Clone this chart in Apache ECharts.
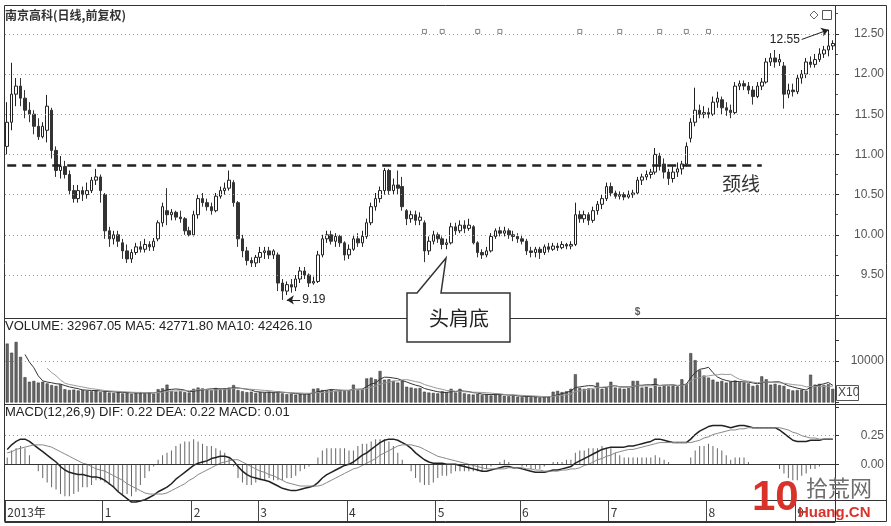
<!DOCTYPE html>
<html><head><meta charset="utf-8">
<script src="https://cdn.jsdelivr.net/npm/echarts@6.0.0/dist/echarts.min.js"></script>
<style>html,body{margin:0;padding:0;background:#fff}#c{width:891px;height:526px}</style>
</head><body><div id="c"></div>
<script>
// ---- data ----
const monthLabels = ['2013年','1','2','3','4','5','6','7','8','9'];
const monthStarts = [0,22,42,57,77,97,116,136,158,178];
const priceTicks = [9.5,10,10.5,11,11.5,12,12.5];
const necklineValue = 10.87;
const necklineEndIdx = 170;
const lowIdx = 62, lowValue = 9.19;
const highIdx = 185, highValue = 12.55;
const mineIdx = [94,98,106,111,129,138,147,153,158];
const dividendIdx = 142;

const opens = [11.10,11.40,11.75,11.85,11.70,11.55,11.50,11.35,11.22,11.30,
11.55,11.05,10.80,10.85,10.75,10.55,10.45,10.55,10.50,10.55,
10.68,10.72,10.50,10.05,9.95,10.00,9.90,9.80,9.70,9.78,
9.85,9.82,9.88,9.85,9.95,10.15,10.30,10.25,10.28,10.22,
10.20,10.05,10.00,10.25,10.45,10.40,10.35,10.30,10.48,10.55,
10.58,10.65,10.40,9.95,9.80,9.68,9.65,9.72,9.78,9.80,
9.75,9.75,9.40,9.30,9.38,9.35,9.45,9.55,9.50,9.40,
9.42,9.75,9.95,10.00,9.92,9.98,9.90,9.75,9.82,9.95,
9.90,9.98,10.15,10.35,10.45,10.55,10.80,10.55,10.62,10.60,
10.30,10.20,10.25,10.18,10.15,9.80,9.92,10.00,9.95,9.88,
9.90,10.10,10.05,10.12,10.08,10.10,9.90,9.78,9.75,9.80,
9.98,10.05,10.02,10.05,10.00,9.98,9.95,9.92,9.80,9.78,
9.82,9.78,9.85,9.82,9.86,9.84,9.88,9.86,9.88,10.25,
10.20,10.25,10.18,10.30,10.38,10.45,10.60,10.52,10.48,10.50,
10.47,10.50,10.52,10.68,10.72,10.75,10.78,10.98,10.88,10.78,
10.70,10.78,10.82,10.88,11.20,11.40,11.55,11.50,11.52,11.50,
11.65,11.68,11.58,11.55,11.52,11.85,11.88,11.85,11.80,11.72,
11.85,11.90,12.15,12.20,12.15,12.10,11.75,11.80,11.78,11.95,
12.00,12.15,12.12,12.18,12.25,12.30,12.35];
const closes = [11.40,11.75,11.85,11.70,11.55,11.50,11.35,11.22,11.35,11.60,
11.05,10.80,10.85,10.75,10.55,10.45,10.55,10.50,10.55,10.68,
10.72,10.55,10.05,9.95,10.00,9.92,9.80,9.70,9.78,9.85,
9.82,9.88,9.85,9.92,10.15,10.35,10.25,10.28,10.22,10.20,
10.05,10.00,10.25,10.45,10.40,10.35,10.30,10.48,10.55,10.58,
10.68,10.40,9.95,9.80,9.68,9.65,9.72,9.78,9.80,9.75,
9.80,9.40,9.30,9.38,9.35,9.45,9.55,9.50,9.40,9.42,
9.75,9.95,10.00,9.92,9.98,9.90,9.75,9.82,9.95,9.90,
9.98,10.15,10.35,10.45,10.55,10.80,10.55,10.62,10.58,10.35,
10.20,10.25,10.18,10.22,9.80,9.92,10.00,9.95,9.88,9.90,
10.10,10.05,10.12,10.08,10.12,9.90,9.78,9.75,9.80,9.98,
10.05,10.02,10.05,10.00,9.98,9.95,9.92,9.80,9.78,9.82,
9.78,9.85,9.82,9.86,9.84,9.88,9.86,9.88,10.25,10.20,
10.25,10.18,10.30,10.38,10.45,10.60,10.52,10.48,10.50,10.47,
10.50,10.52,10.68,10.72,10.75,10.78,11.00,10.88,10.78,10.70,
10.78,10.82,10.88,11.10,11.40,11.55,11.50,11.52,11.50,11.65,
11.70,11.58,11.55,11.52,11.85,11.88,11.85,11.80,11.72,11.85,
11.90,12.15,12.20,12.15,12.18,11.75,11.80,11.78,11.95,12.00,
12.15,12.12,12.18,12.25,12.30,12.35,12.38];
const lows = [11.00,11.30,11.60,11.60,11.45,11.40,11.25,11.18,11.20,11.15,
10.95,10.72,10.70,10.70,10.50,10.40,10.40,10.42,10.45,10.52,
10.62,10.40,9.95,9.85,9.88,9.85,9.70,9.65,9.65,9.75,
9.78,9.78,9.80,9.80,9.92,10.10,10.12,10.18,10.18,10.15,
10.00,9.98,9.98,10.20,10.35,10.30,10.25,10.28,10.45,10.50,
10.55,10.35,9.85,9.72,9.62,9.60,9.60,9.65,9.70,9.70,
9.70,9.30,9.19,9.25,9.28,9.30,9.40,9.45,9.35,9.38,
9.40,9.72,9.90,9.88,9.85,9.85,9.68,9.70,9.80,9.85,
9.85,9.95,10.12,10.30,10.40,10.50,10.50,10.50,10.50,10.30,
10.12,10.15,10.12,10.12,9.66,9.75,9.88,9.90,9.82,9.82,
9.88,10.00,10.02,10.02,10.05,9.88,9.72,9.70,9.72,9.78,
9.95,9.98,9.98,9.95,9.92,9.90,9.88,9.75,9.72,9.72,
9.70,9.75,9.78,9.80,9.80,9.82,9.82,9.82,9.86,10.15,
10.15,10.12,10.15,10.25,10.32,10.42,10.48,10.45,10.44,10.43,
10.45,10.46,10.50,10.62,10.68,10.70,10.75,10.80,10.70,10.62,
10.65,10.72,10.75,10.85,11.15,11.35,11.45,11.45,11.45,11.48,
11.58,11.50,11.48,11.45,11.50,11.80,11.80,11.75,11.62,11.70,
11.80,11.88,12.10,12.08,12.10,11.57,11.70,11.72,11.75,11.88,
11.95,12.08,12.08,12.15,12.20,12.22,12.30];
const highs = [11.65,12.14,11.95,11.95,11.80,11.65,11.55,11.45,11.40,11.74,
11.58,11.10,10.98,10.92,10.80,10.62,10.62,10.60,10.65,10.72,
10.82,10.75,10.52,10.10,10.05,10.05,9.95,9.88,9.82,9.90,
9.92,9.95,9.92,9.96,10.18,10.40,10.58,10.32,10.30,10.30,
10.22,10.10,10.30,10.50,10.52,10.45,10.40,10.52,10.60,10.65,
10.80,10.68,10.42,10.00,9.85,9.72,9.75,9.85,9.85,9.85,
9.82,9.78,9.45,9.42,9.45,9.50,9.60,9.60,9.52,9.48,
9.80,10.00,10.05,10.05,10.02,10.00,9.92,9.88,10.00,10.02,
10.05,10.20,10.40,10.52,10.60,10.83,10.82,10.70,10.80,10.72,
10.32,10.30,10.30,10.28,10.18,9.98,10.05,10.03,9.98,9.95,
10.15,10.15,10.18,10.18,10.20,10.12,9.92,9.82,9.85,10.02,
10.08,10.10,10.10,10.08,10.05,10.02,10.00,9.95,9.85,9.85,
9.85,9.88,9.90,9.90,9.90,9.92,9.90,9.92,10.40,10.30,
10.30,10.28,10.35,10.42,10.50,10.65,10.65,10.55,10.54,10.53,
10.55,10.56,10.72,10.76,10.80,10.82,11.08,11.02,10.95,10.82,
10.85,10.90,10.92,11.15,11.45,11.83,11.62,11.60,11.58,11.72,
11.78,11.72,11.65,11.62,11.90,11.92,11.92,11.90,11.85,11.90,
11.95,12.20,12.26,12.30,12.25,12.15,11.88,11.88,12.00,12.05,
12.20,12.22,12.25,12.32,12.35,12.55,12.42];
const volumes = [14200,12000,14600,11000,6100,5000,5200,4800,5000,4600,
4200,4000,4400,3200,3000,3100,2900,3000,2800,2700,
2900,2500,2700,2400,2300,2600,2200,2400,2100,2300,
2500,2200,2400,2100,3200,3400,4300,2800,2600,2700,
2500,2400,3300,3600,3400,3200,3000,3500,3300,3400,
3600,4200,3000,2700,2500,2600,2300,2500,2400,2600,
2400,2700,2200,2000,2100,1900,2100,2000,2200,3300,
3400,3000,2900,3100,2800,3000,2900,2800,4300,3000,
3200,5800,6000,5600,7600,5500,5600,5200,4800,5300,
3800,3600,3400,3500,2600,2400,2300,2200,2700,2500,
3300,2400,3300,2200,2000,1900,2100,1800,2000,1700,
2200,1900,1600,1500,1700,1400,1300,1500,1300,1400,
1200,1300,1400,2600,2800,2500,2700,3300,6800,3500,
3300,3400,3200,4800,3300,3500,5000,3600,3400,3300,
3500,5200,5200,3600,3800,3500,5800,3800,4000,3900,
4100,3800,5600,4500,11900,10200,7800,6500,6000,5500,
5000,5200,4800,5000,5300,4900,4800,4600,4000,4200,
6300,5600,4300,4500,4200,4000,3200,2900,3000,3100,
2800,6700,4300,4500,4200,4400,3297];
const dif = [0.13,0.17,0.20,0.22,0.22,0.20,0.17,0.14,0.11,0.08,
0.05,0.02,-0.02,-0.05,-0.07,-0.08,-0.09,-0.09,-0.10,-0.11,
-0.11,-0.12,-0.14,-0.17,-0.20,-0.24,-0.27,-0.30,-0.33,-0.33,
-0.32,-0.31,-0.29,-0.27,-0.24,-0.22,-0.20,-0.17,-0.13,-0.10,
-0.07,-0.04,-0.01,0.01,0.02,0.03,0.05,0.06,0.07,0.07,
0.06,0.03,-0.02,-0.06,-0.09,-0.11,-0.12,-0.13,-0.14,-0.15,
-0.17,-0.19,-0.21,-0.22,-0.23,-0.23,-0.22,-0.21,-0.20,-0.19,
-0.16,-0.12,-0.09,-0.07,-0.05,-0.03,-0.01,0.00,0.02,0.05,
0.08,0.10,0.13,0.16,0.19,0.21,0.22,0.22,0.21,0.19,
0.17,0.14,0.10,0.07,0.04,0.02,0.01,0.01,0.01,0.00,
0.00,0.00,-0.01,-0.02,-0.03,-0.04,-0.05,-0.06,-0.06,-0.05,
-0.04,-0.03,-0.02,-0.02,-0.03,-0.03,-0.04,-0.05,-0.06,-0.07,
-0.07,-0.07,-0.06,-0.05,-0.05,-0.04,-0.03,-0.02,0.01,0.03,
0.05,0.07,0.09,0.11,0.13,0.14,0.15,0.15,0.15,0.15,
0.16,0.16,0.17,0.18,0.19,0.20,0.22,0.22,0.21,0.20,
0.19,0.19,0.19,0.19,0.22,0.26,0.29,0.31,0.33,0.34,
0.34,0.34,0.33,0.32,0.33,0.34,0.34,0.33,0.32,0.32,
0.32,0.32,0.32,0.32,0.30,0.27,0.24,0.21,0.20,0.20,
0.20,0.21,0.21,0.21,0.22,0.22,0.22];
const dea = [0.10,0.11,0.13,0.14,0.15,0.16,0.17,0.17,0.17,0.16,
0.15,0.13,0.11,0.09,0.07,0.05,0.03,0.01,0.00,-0.02,
-0.04,-0.05,-0.06,-0.08,-0.10,-0.12,-0.14,-0.17,-0.19,-0.21,
-0.23,-0.25,-0.26,-0.26,-0.26,-0.26,-0.25,-0.23,-0.21,-0.19,
-0.17,-0.14,-0.12,-0.09,-0.07,-0.05,-0.03,-0.01,0.01,0.02,
0.03,0.04,0.04,0.02,0.00,-0.02,-0.04,-0.06,-0.07,-0.09,
-0.10,-0.12,-0.14,-0.16,-0.17,-0.18,-0.19,-0.19,-0.19,-0.19,
-0.19,-0.18,-0.16,-0.14,-0.12,-0.10,-0.08,-0.06,-0.04,-0.03,
-0.01,0.01,0.03,0.05,0.08,0.10,0.12,0.14,0.16,0.17,
0.17,0.17,0.16,0.15,0.13,0.11,0.09,0.07,0.06,0.05,
0.04,0.03,0.02,0.01,0.00,-0.01,-0.02,-0.03,-0.04,-0.04,
-0.04,-0.04,-0.04,-0.03,-0.03,-0.03,-0.03,-0.04,-0.04,-0.05,
-0.05,-0.06,-0.06,-0.06,-0.06,-0.05,-0.05,-0.04,-0.04,-0.03,
-0.01,0.00,0.02,0.04,0.05,0.07,0.08,0.10,0.11,0.12,
0.13,0.13,0.14,0.15,0.16,0.17,0.18,0.19,0.19,0.19,
0.19,0.19,0.19,0.19,0.19,0.20,0.21,0.23,0.24,0.26,
0.27,0.28,0.29,0.30,0.30,0.31,0.31,0.32,0.32,0.32,
0.32,0.32,0.32,0.32,0.32,0.31,0.30,0.28,0.27,0.25,
0.24,0.23,0.23,0.22,0.22,0.22,0.22];

// ---- derived tables for the library ----
const categories = closes.map((_, i) => String(i));
const kData = opens.map((o, i) => [o, closes[i], lows[i], highs[i]]);
function movingAvg(arr, n) {
  return arr.map((_, i) => {
    if (i < n - 1) return null;
    let s = 0; for (let k = i - n + 1; k <= i; k++) s += arr[k];
    return +(s / n).toFixed(1);
  });
}
const volMa5 = movingAvg(volumes, 5);
const volMa10 = movingAvg(volumes, 10);
const macdHist = dif.map((d, i) => +(2 * (d - dea[i])).toFixed(3));

const NUM = 'Liberation Sans';
const CJK = 'Noto Sans CJK SC';
const L = 5, R = 56;
const near = (a, b) => Math.abs(a - b) < 1e-6;

const chart = echarts.init(document.getElementById('c'), null, {renderer: 'canvas'});
chart.setOption({
  animation: false,
  backgroundColor: '#fff',
  grid: [
    {left: L, right: R, top: 5.7, height: 309.5},
    {left: L, right: R, top: 340.25, height: 62.25},
    {left: L, right: R, top: 407.1, height: 114.4},
    {left: L, right: R, top: 501, height: 21}
  ],
  xAxis: [
    {type: 'category', gridIndex: 0, data: categories, show: false},
    {type: 'category', gridIndex: 1, data: categories, show: false},
    {type: 'category', gridIndex: 2, data: categories, show: false},
    {type: 'category', gridIndex: 3, data: categories, position: 'bottom',
      axisLine: {show: true, lineStyle: {color: '#333'}},
      axisTick: {show: true, inside: true, length: 21, interval: (i) => monthStarts.includes(i), lineStyle: {color: '#444'}},
      axisLabel: {show: true, inside: true, interval: (i) => monthStarts.includes(i),
        formatter: (v, i) => { const k = monthStarts.indexOf(Number(v)); return k >= 0 ? monthLabels[k] : ''; },
        align: 'left', margin: 4, color: '#333', fontSize: 12, fontFamily: CJK},
      splitLine: {show: false}}
  ],
  yAxis: [
    {type: 'value', gridIndex: 0, position: 'right', min: 9, max: 12.85, interval: 0.5, scale: true,
      axisLine: {show: true, lineStyle: {color: '#333'}},
      axisTick: {show: true, length: 4, lineStyle: {color: '#333'}},
      minorTick: {show: true, splitNumber: 2, length: 3, lineStyle: {color: '#555'}},
      splitLine: {show: false},
      axisLabel: {align: 'right', margin: 49, color: '#555', fontSize: 12, fontFamily: NUM,
        formatter: (v) => priceTicks.some(t => near(t, v)) ? v.toFixed(2) : ''}},
    {type: 'value', gridIndex: 1, position: 'right', min: 0, max: 15000, interval: 10000,
      axisLine: {show: true, lineStyle: {color: '#333'}},
      axisTick: {show: true, length: 4, lineStyle: {color: '#333'}},
      splitLine: {show: false},
      axisLabel: {align: 'right', margin: 49, color: '#555', fontSize: 12, fontFamily: NUM,
        formatter: (v) => near(v, 10000) ? '10000' : ''}},
    {type: 'value', gridIndex: 2, position: 'right', min: -0.5, max: 0.5, interval: 0.25,
      axisLine: {show: true, lineStyle: {color: '#333'}},
      axisTick: {show: true, length: 4, lineStyle: {color: '#333'}},
      splitLine: {show: false},
      axisLabel: {align: 'right', margin: 49, color: '#555', fontSize: 12, fontFamily: NUM,
        formatter: (v) => (near(v, 0) || near(v, 0.25)) ? v.toFixed(2) : ''}},
    {type: 'value', gridIndex: 3, show: false}
  ],
  series: [
    {type: 'candlestick', name: 'K', xAxisIndex: 0, yAxisIndex: 0, data: kData, barWidth: 3,
      itemStyle: {color: '#fff', color0: '#333', borderColor: '#222', borderColor0: '#333', borderWidth: 1},
      markLine: {silent: true, symbol: ['none', 'none'], label: {show: false},
        lineStyle: {color: '#222', type: [9, 6], width: 2.5},
        data: [[{coord: [0, necklineValue]}, {coord: [necklineEndIdx, necklineValue]}]]}},
    {type: 'scatter', name: 'mines', xAxisIndex: 0, yAxisIndex: 0,
      data: mineIdx.map(i => [i, 12.53]), symbol: 'rect', symbolSize: 4,
      itemStyle: {color: '#fff', borderColor: '#666', borderWidth: 1}, silent: true,
      markLine: {silent: true, symbol: ['none', 'none'], label: {show: false},
        lineStyle: {color: '#999', type: [1, 3], width: 1},
        data: priceTicks.map(v => ({yAxis: v}))}},
    {type: 'scatter', name: 'extremes', xAxisIndex: 0, yAxisIndex: 0,
      data: [[lowIdx, lowValue], [highIdx, highValue]], symbolSize: 0, silent: true,
      markLine: {silent: true, symbol: ['none', 'arrow'], symbolSize: 7,
        lineStyle: {color: '#222', type: 'solid', width: 1},
        label: {show: true, position: 'start', formatter: '{b}', color: '#222', fontSize: 12, fontFamily: NUM, distance: 2},
        data: [
          [{name: String(highValue), coord: [179, 12.43]}, {coord: [highIdx, highValue]}],
          [{name: String(lowValue), coord: [lowIdx + 4, lowValue]}, {coord: [lowIdx + 1, lowValue]}]
        ]}},
    {type: 'scatter', name: 'dividend', xAxisIndex: 0, yAxisIndex: 0,
      data: [[dividendIdx, 9.04]], symbolSize: 0, silent: true,
      label: {show: true, position: 'inside', formatter: '$', color: '#333', fontSize: 10, fontFamily: NUM, fontWeight: 'bold'}},
    {type: 'bar', name: 'VOLUME', xAxisIndex: 1, yAxisIndex: 1, data: volumes, barWidth: 3,
      itemStyle: {color: '#666', borderColor: '#333', borderWidth: 0.5},
      markLine: {silent: true, symbol: ['none', 'none'], label: {show: false},
        lineStyle: {color: '#999', type: [1, 3], width: 1}, data: [{yAxis: 10000}]}},
    {type: 'line', name: 'MA5', xAxisIndex: 1, yAxisIndex: 1, data: volMa5, showSymbol: false,
      lineStyle: {color: '#333', width: 1}},
    {type: 'line', name: 'MA10', xAxisIndex: 1, yAxisIndex: 1, data: volMa10, showSymbol: false,
      lineStyle: {color: '#999', width: 1}},
    {type: 'bar', name: 'MACD', xAxisIndex: 2, yAxisIndex: 2, data: macdHist, barWidth: 1,
      itemStyle: {color: '#666'}},
    {type: 'line', name: 'DIF', xAxisIndex: 2, yAxisIndex: 2, data: dif, showSymbol: false,
      lineStyle: {color: '#222', width: 1.5},
      markLine: {silent: true, symbol: ['none', 'none'], label: {show: false},
        data: [
          {yAxis: 0.25, lineStyle: {color: '#999', type: [1, 3], width: 1}},
          {yAxis: 0, lineStyle: {color: '#333', type: 'solid', width: 1}}
        ]}},
    {type: 'line', name: 'DEA', xAxisIndex: 2, yAxisIndex: 2, data: dea, showSymbol: false,
      lineStyle: {color: '#888', width: 1}}
  ],
  graphic: {elements: [
    {type: 'rect', shape: {x: 4.5, y: 5.5, width: 882, height: 516}, style: {fill: 'none', stroke: '#333', lineWidth: 1}, z: 50, silent: true},
    {type: 'line', shape: {x1: 4.5, y1: 318.5, x2: 886.5, y2: 318.5}, style: {stroke: '#333', lineWidth: 1}, z: 50, silent: true},
    {type: 'line', shape: {x1: 4.5, y1: 404.5, x2: 886.5, y2: 404.5}, style: {stroke: '#333', lineWidth: 1}, z: 50, silent: true},
    {type: 'line', shape: {x1: 4.5, y1: 500.5, x2: 886.5, y2: 500.5}, style: {stroke: '#333', lineWidth: 1}, z: 50, silent: true},
    {type: 'line', shape: {x1: 835.5, y1: 5.5, x2: 835.5, y2: 521.5}, style: {stroke: '#333', lineWidth: 1}, z: 50, silent: true},
    {type: 'text', x: 5, y: 9, style: {text: '南京高科(日线,前复权)', font: 'bold 12px "Noto Sans CJK SC"', fill: '#333'}, z: 60},
    {type: 'text', x: 5, y: 320, style: {text: 'VOLUME: 32967.05 MA5: 42771.80 MA10: 42426.10', font: '13px "Liberation Sans"', fill: '#222'}, z: 60},
    {type: 'text', x: 5, y: 406, style: {text: 'MACD(12,26,9) DIF: 0.22 DEA: 0.22 MACD: 0.01', font: '13px "Liberation Sans"', fill: '#222'}, z: 60},
    {type: 'text', x: 722, y: 174, style: {text: '颈线', font: '19px "Noto Sans CJK SC"', fill: '#333'}, z: 60},
    {type: 'polygon', shape: {points: [[407,293],[417,293],[446,258],[441,293],[510,293],[510,342],[407,342]]},
      style: {fill: '#fff', stroke: '#333', lineWidth: 1.5}, z: 70},
    {type: 'text', x: 459, y: 318, style: {text: '头肩底', font: '20px "Noto Sans CJK SC"', fill: '#222', align: 'center', verticalAlign: 'middle'}, z: 71},
    {type: 'rect', shape: {x: 836.5, y: 385.5, width: 22, height: 15}, style: {fill: '#fff', stroke: '#555', lineWidth: 1}, z: 60},
    {type: 'text', x: 838, y: 387, style: {text: 'X10', font: '12px "Liberation Sans"', fill: '#444'}, z: 61},
    {type: 'polygon', shape: {points: [[814,11],[818,15],[814,19],[810,15]]}, style: {fill: '#fff', stroke: '#666', lineWidth: 1}, z: 60},
    {type: 'rect', shape: {x: 822.5, y: 10.5, width: 9, height: 9}, style: {fill: '#fff', stroke: '#555', lineWidth: 1}, z: 60},
    {type: 'text', x: 752, y: 477, style: {text: '10', font: 'bold 42px "Liberation Sans"', fill: '#d8322a'}, z: 80},
    {type: 'text', x: 806, y: 477, style: {text: '拾荒网', font: '22px "Noto Sans CJK SC"', fill: '#6d6d6d'}, z: 80},
    {type: 'text', x: 798, y: 505, style: {text: 'Huang.CN', font: 'bold 15px "Liberation Sans"', fill: '#d8322a'}, z: 80}
  ]}
});
</script>
</body></html>
